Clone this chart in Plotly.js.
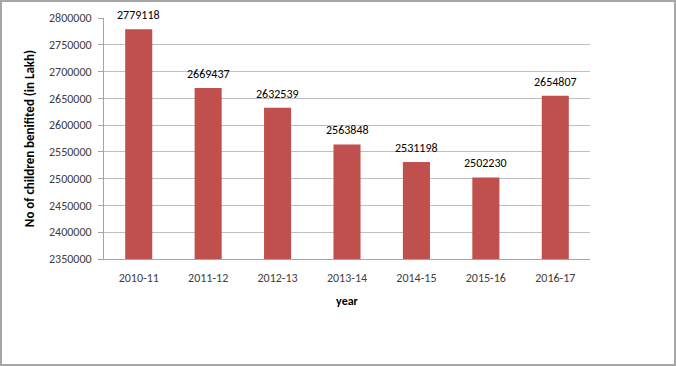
<!DOCTYPE html>
<html><head><meta charset="utf-8">
<script src="https://cdn.plot.ly/plotly-3.0.1.min.js"></script>
<style>html,body{margin:0;padding:0;background:#fff;}#chart{width:676px;height:366px;box-sizing:border-box;border:2px solid #a6a6a6;}</style>
</head><body><div id="chart"></div>
<script>
const years = ["2010-11","2011-12","2012-13","2013-14","2014-15","2015-16","2016-17"];
const children = [2779118,2669437,2632539,2563848,2531198,2502230,2654807];
const yTicks = [2350000,2400000,2450000,2500000,2550000,2600000,2650000,2700000,2750000,2800000];

const font = "Calibri, Carlito, Lato, sans-serif";
Plotly.newPlot('chart',[{
  type:'bar', x:years, y:children,
  marker:{color:'#c0504d'},
  hoverinfo:'none'
}],{
  width:672, height:362,
  margin:{l:102,r:84,t:16,b:105},
  bargap:0.61,
  paper_bgcolor:'#fff', plot_bgcolor:'#fff',
  font:{family:font,size:12,color:'#404040'},
  annotations: years.map((yr,i)=>({x:yr,y:children[i],text:String(children[i]),showarrow:false,
    yanchor:'bottom',yshift:5,font:{family:font,size:12,color:'#000'}})),
  xaxis:{type:'category',showline:true,linecolor:'#a6a6a6',linewidth:1,ticks:'',ticklabelstandoff:8,
    tickfont:{family:font,size:12,color:'#404040'},
    title:{text:'year',font:{family:font,size:12,color:'#000',weight:'bold'},standoff:12}},
  yaxis:{range:[2350000,2800000],tickvals:yTicks,ticktext:yTicks.map(String),
    showline:true,linecolor:'#a6a6a6',linewidth:1,ticks:'outside',ticklen:5,tickcolor:'#a6a6a6',ticklabelstandoff:4,
    showgrid:true,gridcolor:'#bfbfbf',zeroline:false,
    tickfont:{family:font,size:12,color:'#404040'},
    title:{text:'No of children benifited (in Lakh)',font:{family:font,size:13,color:'#000',weight:'bold'},standoff:11}},
  showlegend:false
},{displayModeBar:false,staticPlot:true});
</script></body></html>
